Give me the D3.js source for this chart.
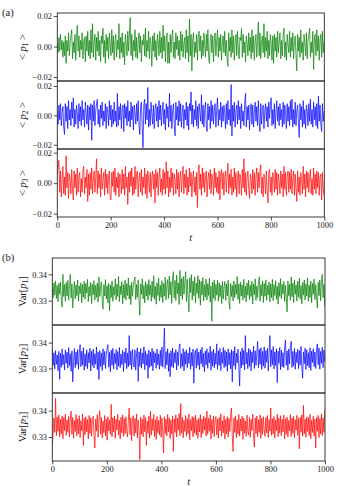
<!DOCTYPE html>
<html><head><meta charset="utf-8">
<script src="https://cdn.jsdelivr.net/npm/d3@7"></script>
<style>
body{margin:0;background:#fff}
svg{display:block}
</style>
</head><body>
<svg id="chart" width="340" height="486"></svg>
<script>
// ---- data (sampled every 3 time units, t = 0..999) ----
const tValues = d3.range(0, 1000, 3);
const xTicks = [0, 200, 400, 600, 800, 1000];
const meanTicks = [-0.02, 0.00, 0.02];
const varTicks = [0.33, 0.34];

const meanP1 = [
0.002,-0.004,0.006,-0.003,0.008,-0.002,0.004,-0.007,0.003,-0.006,
0.007,-0.011,0.004,-0.003,0.009,-0.006,0.002,0.007,0.011,-0.008,
0.003,-0.004,0.008,-0.009,0.006,0.014,-0.003,0.007,-0.007,0.004,
-0.002,0.009,-0.008,0.003,0.006,-0.010,0.007,-0.003,0.010,-0.006,
0.004,-0.008,0.011,-0.004,0.015,-0.007,0.003,0.008,-0.009,0.006,
-0.003,0.010,-0.006,0.004,-0.010,0.007,0.002,0.012,-0.007,0.004,
-0.011,0.008,-0.003,0.006,-0.008,0.009,0.001,-0.006,0.011,-0.004,
0.007,-0.009,0.003,0.008,-0.007,0.004,-0.002,0.015,-0.008,0.006,
-0.004,0.009,-0.007,0.003,-0.012,0.008,0.002,-0.006,0.010,-0.003,
0.007,0.019,-0.006,0.008,-0.009,0.004,-0.003,0.011,-0.007,0.006,
-0.008,0.003,0.009,-0.004,0.007,-0.010,0.004,0.001,0.008,-0.006,
0.012,-0.007,0.004,-0.003,0.010,-0.008,0.006,0.002,-0.013,0.007,
-0.003,0.009,-0.007,0.004,-0.009,0.008,0.003,-0.006,0.010,-0.004,
0.006,-0.008,0.014,-0.003,0.007,-0.010,0.004,0.009,-0.011,0.003,
-0.011,0.008,-0.004,0.006,0.011,-0.007,0.003,-0.008,0.009,-0.002,
0.007,-0.006,0.004,-0.009,0.010,-0.003,0.008,-0.007,0.002,0.006,
-0.008,0.011,-0.004,0.007,-0.010,0.018,-0.006,0.008,-0.016,0.004,
0.009,-0.007,0.003,-0.004,0.008,-0.009,0.006,0.010,-0.003,0.007,
-0.008,0.004,-0.006,0.009,0.001,-0.007,0.008,-0.003,0.011,-0.008,
-0.011,0.006,0.008,-0.004,0.007,-0.010,0.003,0.009,-0.006,0.004,
0.011,-0.007,0.006,-0.003,0.008,-0.009,0.002,0.007,-0.004,0.010,
-0.006,0.004,-0.008,-0.013,0.009,-0.003,0.006,-0.007,0.011,-0.004,
0.007,-0.009,0.003,0.008,-0.006,0.010,-0.002,-0.008,0.006,0.004,
0.012,-0.007,0.008,-0.004,0.003,-0.010,0.007,0.002,-0.006,0.009,
-0.003,0.006,-0.008,0.011,-0.004,0.007,-0.009,0.003,0.008,-0.007,
0.004,0.016,-0.006,0.009,-0.008,0.003,0.007,-0.004,0.015,-0.007,
0.006,-0.003,0.010,-0.008,0.004,-0.006,0.008,0.002,-0.009,0.007,
-0.011,0.008,-0.003,0.006,-0.007,0.010,-0.004,0.003,0.009,-0.008,
0.004,-0.006,0.007,0.012,-0.007,0.003,-0.009,0.008,0.001,-0.004,
0.010,-0.007,0.006,-0.003,0.009,-0.008,0.004,0.007,-0.006,-0.016,
0.008,-0.003,0.006,-0.007,0.011,-0.004,0.003,-0.009,0.008,0.002,
-0.006,0.009,-0.008,0.004,0.007,0.012,-0.007,0.003,-0.004,0.010,
-0.015,0.006,0.008,-0.006,0.011,-0.003,0.007,-0.009,0.004,0.008,
-0.007,0.010,-0.004,0.003];

const meanP2 = [
0.003,-0.006,0.007,-0.003,0.008,-0.007,0.002,0.006,-0.008,-0.013,
0.008,-0.004,0.006,-0.009,0.010,-0.003,0.004,-0.007,0.009,-0.002,
0.012,-0.008,0.004,-0.006,0.007,0.001,-0.009,0.008,-0.004,0.006,
-0.007,0.010,-0.003,0.004,-0.008,0.009,0.002,-0.006,0.007,-0.010,
0.006,-0.003,0.008,-0.017,0.007,-0.004,0.010,-0.007,0.003,0.008,
0.011,-0.006,0.004,-0.008,0.007,-0.002,0.009,-0.007,0.003,-0.004,
0.008,-0.009,0.006,0.002,-0.007,0.010,-0.003,0.007,-0.008,0.004,
-0.006,0.009,-0.004,0.003,-0.008,0.015,-0.007,0.006,-0.003,0.008,
-0.009,0.004,0.007,-0.011,0.008,-0.002,0.006,-0.007,0.010,-0.004,
0.003,-0.008,0.009,-0.003,0.006,-0.010,0.007,0.002,-0.006,0.008,
-0.004,0.010,-0.007,-0.013,0.006,0.009,-0.008,-0.022,0.007,0.011,
-0.006,0.008,-0.003,0.019,-0.008,0.004,-0.007,0.009,0.001,-0.006,
0.007,-0.009,0.004,0.008,-0.004,0.006,-0.008,0.010,-0.003,0.007,
-0.007,0.003,0.009,-0.006,0.004,-0.010,0.008,-0.002,0.006,-0.008,
0.015,-0.004,0.007,-0.009,0.003,0.008,-0.006,-0.014,0.009,-0.003,
0.006,-0.007,0.010,-0.004,0.008,-0.008,0.002,0.007,-0.009,0.004,
-0.003,0.009,-0.007,0.006,-0.010,0.008,0.003,0.016,-0.006,0.007,
-0.008,0.004,-0.003,0.010,-0.007,0.006,-0.009,0.008,0.002,-0.004,
0.014,-0.006,0.007,-0.008,0.004,0.009,-0.007,-0.011,0.008,-0.003,
0.006,-0.009,0.010,-0.004,0.007,-0.006,0.003,0.008,-0.008,0.004,
0.012,-0.007,0.004,-0.003,0.009,-0.008,0.006,-0.004,0.007,0.002,
-0.009,0.008,-0.006,0.010,-0.003,0.004,-0.007,0.021,-0.014,0.007,
-0.004,0.009,-0.008,0.003,0.007,-0.006,0.010,-0.003,0.006,-0.009,
0.008,-0.004,0.003,-0.007,0.009,0.015,-0.008,0.006,-0.003,0.007,
-0.010,0.004,0.008,-0.006,0.007,-0.008,0.002,0.009,-0.004,0.006,
-0.007,0.010,-0.003,-0.011,0.008,-0.006,0.004,0.007,-0.009,0.003,
0.008,-0.004,0.006,-0.008,0.009,-0.002,0.007,0.012,-0.007,0.004,
-0.006,0.008,-0.009,0.003,0.010,-0.004,0.006,-0.007,0.008,-0.003,
0.004,-0.008,0.009,-0.006,0.007,0.001,-0.009,0.008,-0.004,0.006,
-0.007,0.010,-0.003,0.011,-0.008,0.004,-0.006,0.009,-0.007,0.003,
0.007,-0.004,-0.015,0.008,-0.003,0.006,-0.008,0.010,-0.006,0.004,
-0.009,0.007,0.003,-0.007,0.008,-0.004,0.011,-0.006,0.004,-0.008,
0.009,-0.003,0.006,-0.007,0.008,-0.009,0.013,-0.004,0.007,-0.006,
-0.011,0.008,-0.004,0.003];

const meanP3 = [
0.006,0.010,0.015,-0.006,0.008,-0.009,0.003,0.011,-0.007,0.004,
-0.008,0.018,-0.003,0.007,-0.010,0.006,0.002,-0.007,0.009,-0.004,
-0.011,0.008,-0.003,0.006,-0.008,0.010,-0.006,0.004,0.007,-0.009,
0.003,-0.006,0.008,0.011,-0.007,0.004,-0.003,0.009,-0.012,0.006,
-0.008,0.007,-0.004,0.010,-0.007,0.003,0.008,-0.006,0.004,0.016,
-0.007,0.008,-0.003,0.006,-0.009,0.010,-0.004,0.002,0.007,-0.008,
0.009,-0.003,0.006,-0.007,0.004,0.008,-0.010,-0.011,0.007,-0.002,
0.008,-0.006,0.010,-0.008,0.004,-0.003,0.007,-0.009,0.006,0.003,
-0.007,0.009,-0.004,0.006,-0.008,0.011,-0.003,0.004,-0.014,0.007,
-0.006,0.008,-0.002,0.010,-0.008,0.004,-0.007,0.011,-0.004,0.006,
0.008,-0.009,0.003,0.007,-0.006,0.009,-0.008,0.004,-0.003,0.010,
-0.007,0.006,-0.010,0.008,0.002,-0.006,0.007,-0.009,0.004,0.008,
-0.004,0.006,-0.013,0.009,-0.003,0.007,-0.008,0.004,0.010,-0.006,
0.003,-0.008,0.009,-0.004,0.007,-0.007,0.014,-0.003,0.008,-0.009,
0.004,-0.006,0.010,-0.003,0.007,-0.008,0.006,0.002,-0.007,0.009,
-0.004,0.007,-0.009,0.003,0.008,-0.006,0.004,0.011,-0.007,0.006,
-0.003,0.009,-0.008,0.004,-0.006,0.010,-0.002,0.007,-0.009,0.003,
0.008,-0.006,0.004,-0.008,0.007,-0.016,0.009,0.012,-0.004,0.006,
-0.008,0.010,-0.003,0.007,-0.006,0.004,0.008,-0.009,0.003,0.007,
-0.004,0.009,-0.007,0.006,0.002,-0.008,0.010,-0.003,0.007,-0.006,
0.004,-0.007,0.008,-0.011,0.006,0.009,-0.004,0.007,-0.008,0.003,
0.008,-0.006,0.004,0.013,-0.007,0.006,-0.003,0.009,-0.008,0.004,
-0.006,0.010,-0.004,0.007,-0.009,0.003,0.008,-0.007,0.006,0.002,
-0.008,0.009,-0.003,0.016,-0.006,0.007,-0.008,0.004,0.008,-0.004,
-0.010,0.006,0.003,-0.007,0.009,-0.004,0.007,-0.008,0.004,0.010,
-0.006,0.007,-0.003,0.008,0.012,-0.007,0.004,-0.009,0.006,0.003,
-0.007,0.008,-0.004,-0.013,0.007,0.009,-0.006,0.004,-0.008,0.007,
0.003,-0.006,0.009,-0.004,0.007,-0.008,0.006,0.001,-0.007,0.008,
-0.003,0.006,-0.009,0.011,-0.004,0.007,-0.008,0.004,0.008,-0.006,
0.007,-0.004,0.009,-0.007,0.003,0.008,-0.008,0.006,-0.003,-0.012,
0.008,-0.006,0.004,-0.008,0.007,0.003,-0.007,0.011,-0.004,0.006,
-0.009,0.008,-0.003,0.007,-0.006,0.004,0.009,-0.007,0.003,-0.008,
0.010,-0.004,0.006,-0.007,0.008,-0.003,0.007,-0.008,0.004,0.006,
-0.011,0.007,-0.004,-0.008];

const varP1 = [
0.3352,0.3312,0.3368,0.3321,0.3375,0.3309,0.3358,0.3296,0.3366,0.3325,
0.3371,0.3305,0.3275,0.3400,0.3316,0.3362,0.3298,0.3369,0.3318,0.3377,
0.3303,0.3357,0.3400,0.3311,0.3364,0.3272,0.3333,0.3373,0.3307,0.3360,
0.3319,0.3379,0.3298,0.3356,0.3326,0.3368,0.3292,0.3361,0.3314,0.3374,
0.3306,0.3365,0.3329,0.3381,0.3297,0.3354,0.3317,0.3370,0.3289,0.3362,
0.3322,0.3376,0.3303,0.3358,0.3313,0.3367,0.3295,0.3390,0.3316,0.3352,
0.3372,0.3300,0.3268,0.3361,0.3318,0.3380,0.3307,0.3357,0.3291,0.3366,
0.3262,0.3359,0.3312,0.3375,0.3298,0.3353,0.3321,0.3383,0.3304,0.3363,
0.3316,0.3392,0.3296,0.3356,0.3323,0.3372,0.3288,0.3361,0.3310,0.3378,
0.3302,0.3365,0.3320,0.3386,0.3306,0.3359,0.3285,0.3370,0.3317,0.3355,
0.3375,0.3390,0.3304,0.3362,0.3313,0.3379,0.3297,0.3245,0.3364,0.3324,
0.3383,0.3307,0.3358,0.3292,0.3372,0.3318,0.3363,0.3302,0.3380,0.3321,
0.3360,0.3298,0.3374,0.3313,0.3395,0.3306,0.3355,0.3287,0.3368,0.3320,
0.3385,0.3299,0.3359,0.3312,0.3376,0.3293,0.3365,0.3317,0.3389,0.3303,
0.3363,0.3380,0.3309,0.3393,0.3322,0.3372,0.3290,0.3386,0.3410,0.3311,
0.3377,0.3301,0.3397,0.3327,0.3368,0.3286,0.3415,0.3318,0.3384,0.3305,
0.3392,0.3325,0.3371,0.3410,0.3297,0.3381,0.3314,0.3258,0.3387,0.3331,
0.3399,0.3302,0.3375,0.3319,0.3391,0.3292,0.3367,0.3328,0.3395,0.3309,
0.3380,0.3283,0.3373,0.3322,0.3388,0.3299,0.3361,0.3314,0.3382,0.3303,
0.3365,0.3320,0.3385,0.3295,0.3356,0.3222,0.3371,0.3310,0.3379,0.3301,
0.3362,0.3321,0.3377,0.3298,0.3368,0.3315,0.3359,0.3289,0.3373,0.3307,
0.3352,0.3373,0.3301,0.3364,0.3318,0.3378,0.3294,0.3268,0.3366,0.3316,
0.3358,0.3299,0.3375,0.3312,0.3362,0.3324,0.3392,0.3305,0.3364,0.3290,
0.3371,0.3318,0.3361,0.3302,0.3381,0.3311,0.3355,0.3296,0.3368,0.3321,
0.3378,0.3305,0.3359,0.3316,0.3374,0.3288,0.3363,0.3323,0.3383,0.3301,
0.3356,0.3313,0.3369,0.3390,0.3298,0.3361,0.3319,0.3375,0.3293,0.3366,
0.3317,0.3379,0.3302,0.3358,0.3322,0.3371,0.3295,0.3364,0.3312,0.3381,
0.3300,0.3361,0.3320,0.3376,0.3305,0.3355,0.3287,0.3368,0.3316,0.3384,
0.3308,0.3363,0.3326,0.3373,0.3297,0.3359,0.3313,0.3258,0.3375,0.3319,
0.3362,0.3302,0.3390,0.3315,0.3367,0.3293,0.3379,0.3324,0.3360,0.3299,
0.3374,0.3314,0.3385,0.3306,0.3357,0.3288,0.3369,0.3321,0.3378,0.3303,
0.3364,0.3318,0.3387,0.3298,0.3359,0.3312,0.3375,0.3293,0.3366,0.3325,
0.3382,0.3304,0.3361,0.3315,0.3272,0.3370,0.3319,0.3379,0.3300,0.3366,
0.3400,0.3311,0.3362,0.3280];

const varP2 = [
0.3375,0.3312,0.3361,0.3298,0.3369,0.3316,0.3352,0.3291,0.3366,0.3258,
0.3358,0.3305,0.3376,0.3314,0.3353,0.3294,0.3372,0.3320,0.3363,0.3301,
0.3381,0.3311,0.3357,0.3289,0.3368,0.3248,0.3327,0.3377,0.3303,0.3364,
0.3315,0.3373,0.3297,0.3359,0.3392,0.3306,0.3367,0.3313,0.3380,0.3293,
0.3356,0.3308,0.3372,0.3299,0.3361,0.3321,0.3378,0.3290,0.3366,0.3311,
0.3374,0.3302,0.3357,0.3316,0.3383,0.3296,0.3363,0.3258,0.3369,0.3307,
0.3360,0.3292,0.3376,0.3314,0.3366,0.3300,0.3353,0.3377,0.3392,0.3305,
0.3362,0.3287,0.3371,0.3312,0.3378,0.3298,0.3358,0.3319,0.3373,0.3294,
0.3365,0.3309,0.3381,0.3303,0.3356,0.3315,0.3370,0.3288,0.3363,0.3320,
0.3379,0.3299,0.3360,0.3307,0.3427,0.3313,0.3367,0.3296,0.3374,0.3324,
0.3305,0.3372,0.3293,0.3358,0.3380,0.3250,0.3364,0.3308,0.3377,0.3301,
0.3360,0.3318,0.3384,0.3295,0.3367,0.3312,0.3356,0.3262,0.3371,0.3304,
0.3363,0.3309,0.3378,0.3291,0.3366,0.3322,0.3359,0.3300,0.3375,0.3314,
0.3356,0.3297,0.3370,0.3310,0.3382,0.3305,0.3362,0.3456,0.3299,0.3365,
0.3314,0.3376,0.3289,0.3359,0.3268,0.3368,0.3307,0.3379,0.3302,0.3361,
0.3322,0.3373,0.3294,0.3364,0.3311,0.3384,0.3395,0.3300,0.3357,0.3308,
0.3377,0.3291,0.3365,0.3316,0.3372,0.3303,0.3360,0.3320,0.3381,0.3297,
0.3362,0.3310,0.3375,0.3243,0.3355,0.3370,0.3301,0.3378,0.3312,0.3363,
0.3295,0.3372,0.3318,0.3382,0.3305,0.3358,0.3287,0.3367,0.3314,0.3376,
0.3300,0.3361,0.3321,0.3386,0.3293,0.3366,0.3309,0.3374,0.3302,0.3359,
0.3316,0.3395,0.3297,0.3368,0.3312,0.3378,0.3292,0.3362,0.3319,0.3381,
0.3303,0.3370,0.3308,0.3364,0.3289,0.3376,0.3314,0.3361,0.3298,0.3373,
0.3248,0.3367,0.3310,0.3384,0.3296,0.3359,0.3322,0.3375,0.3305,0.3232,
0.3365,0.3302,0.3379,0.3313,0.3370,0.3294,0.3427,0.3317,0.3362,0.3299,
0.3377,0.3308,0.3372,0.3291,0.3364,0.3323,0.3386,0.3300,0.3368,0.3312,
0.3360,0.3405,0.3303,0.3374,0.3316,0.3380,0.3296,0.3366,0.3309,0.3383,
0.3301,0.3369,0.3324,0.3378,0.3290,0.3362,0.3427,0.3306,0.3372,0.3314,
0.3385,0.3298,0.3364,0.3311,0.3376,0.3245,0.3367,0.3320,0.3381,0.3295,
0.3371,0.3307,0.3361,0.3303,0.3379,0.3410,0.3312,0.3368,0.3293,0.3375,
0.3317,0.3382,0.3405,0.3304,0.3366,0.3310,0.3377,0.3297,0.3362,0.3322,
0.3374,0.3299,0.3369,0.3313,0.3385,0.3305,0.3262,0.3364,0.3318,0.3378,
0.3296,0.3372,0.3311,0.3361,0.3303,0.3380,0.3292,0.3367,0.3323,0.3376,
0.3307,0.3364,0.3300,0.3373,0.3395,0.3314,0.3379,0.3297,0.3366,0.3320,
0.3382,0.3303,0.3371,0.3326];

const varP3 = [
0.3268,0.3310,0.3372,0.3318,0.3447,0.3305,0.3376,0.3322,0.3384,0.3301,
0.3368,0.3312,0.3380,0.3294,0.3374,0.3325,0.3387,0.3306,0.3365,0.3318,
0.3378,0.3300,0.3370,0.3398,0.3311,0.3374,0.3296,0.3363,0.3321,0.3385,
0.3305,0.3369,0.3313,0.3381,0.3298,0.3362,0.3324,0.3388,0.3268,0.3371,
0.3309,0.3377,0.3319,0.3366,0.3293,0.3382,0.3314,0.3373,0.3303,0.3361,
0.3379,0.3306,0.3258,0.3368,0.3322,0.3385,0.3299,0.3364,0.3400,0.3311,
0.3374,0.3297,0.3361,0.3316,0.3382,0.3304,0.3369,0.3288,0.3377,0.3323,
0.3365,0.3310,0.3424,0.3301,0.3373,0.3319,0.3380,0.3295,0.3367,0.3327,
0.3386,0.3307,0.3363,0.3293,0.3375,0.3316,0.3384,0.3303,0.3370,0.3312,
0.3377,0.3321,0.3300,0.3368,0.3410,0.3309,0.3373,0.3286,0.3362,0.3381,
0.3304,0.3371,0.3315,0.3387,0.3297,0.3364,0.3322,0.3214,0.3376,0.3311,
0.3368,0.3301,0.3383,0.3320,0.3374,0.3268,0.3360,0.3314,0.3379,0.3296,
0.3398,0.3307,0.3369,0.3325,0.3385,0.3302,0.3366,0.3291,0.3378,0.3316,
0.3363,0.3308,0.3382,0.3299,0.3372,0.3323,0.3240,0.3377,0.3313,0.3368,
0.3304,0.3386,0.3320,0.3373,0.3294,0.3364,0.3311,0.3380,0.3245,0.3369,
0.3317,0.3384,0.3300,0.3371,0.3326,0.3389,0.3305,0.3427,0.3314,0.3374,
0.3297,0.3363,0.3321,0.3382,0.3303,0.3370,0.3312,0.3387,0.3290,0.3366,
0.3324,0.3378,0.3301,0.3374,0.3315,0.3383,0.3307,0.3365,0.3295,0.3372,
0.3319,0.3385,0.3298,0.3368,0.3313,0.3379,0.3326,0.3373,0.3304,0.3398,
0.3310,0.3371,0.3322,0.3384,0.3293,0.3366,0.3314,0.3380,0.3301,0.3363,
0.3378,0.3308,0.3369,0.3296,0.3374,0.3323,0.3388,0.3303,0.3362,0.3316,
0.3381,0.3292,0.3367,0.3312,0.3377,0.3300,0.3371,0.3321,0.3384,0.3410,
0.3305,0.3245,0.3373,0.3317,0.3380,0.3297,0.3365,0.3311,0.3386,0.3303,
0.3368,0.3323,0.3379,0.3291,0.3372,0.3314,0.3361,0.3302,0.3383,0.3320,
0.3308,0.3375,0.3299,0.3367,0.3325,0.3387,0.3304,0.3262,0.3373,0.3313,
0.3380,0.3301,0.3365,0.3318,0.3384,0.3295,0.3371,0.3310,0.3377,0.3327,
0.3303,0.3374,0.3315,0.3382,0.3298,0.3366,0.3322,0.3410,0.3306,0.3370,
0.3312,0.3378,0.3296,0.3364,0.3324,0.3386,0.3301,0.3372,0.3316,0.3381,
0.3305,0.3367,0.3320,0.3383,0.3293,0.3369,0.3311,0.3376,0.3300,0.3363,
0.3323,0.3385,0.3302,0.3372,0.3314,0.3378,0.3297,0.3366,0.3326,0.3382,
0.3307,0.3370,0.3255,0.3375,0.3318,0.3384,0.3303,0.3420,0.3312,0.3368,
0.3299,0.3377,0.3321,0.3373,0.3306,0.3386,0.3294,0.3364,0.3317,0.3379,
0.3304,0.3367,0.3258,0.3374,0.3322,0.3382,0.3298,0.3370,0.3311,0.3388,
0.3305,0.3373,0.3318,0.3405];

const colors = ["#008000", "#0000ff", "#ff0000"];

// ---- drawing ----
const FONT = "'Liberation Serif', 'DejaVu Serif', serif";
const svg = d3.select("#chart").attr("font-family", FONT);
const FS_TICK = 8.4, FS_LABEL = 10.5, INK = "#1a1a1a";
const fmt = d3.format(".2f");

function styleAxis(a) {
  a.attr("font-family", FONT).attr("font-size", FS_TICK);
  a.select(".domain").remove();
  a.selectAll("line").attr("stroke", INK).attr("stroke-width", 0.8);
  a.selectAll("text").attr("font-family", FONT).attr("font-size", FS_TICK).attr("fill", INK);
}

function drawGroup(cfg) {
  const x = d3.scaleLinear().domain([0, 1000]).range([cfg.x0, cfg.x1]);
  cfg.panels.forEach((p, k) => {
    const y = d3.scaleLinear().domain(p.domain).range([p.y1, p.y0]);
    const g = svg.append("g");
    const cid = "clip-" + cfg.id + k;
    svg.append("clipPath").attr("id", cid).append("rect")
      .attr("x", cfg.x0).attr("y", p.y0).attr("width", cfg.x1 - cfg.x0).attr("height", p.y1 - p.y0);
    const line = d3.line().x((d, i) => x(tValues[i])).y(d => y(d));
    g.append("path").datum(p.values)
      .attr("clip-path", `url(#${cid})`)
      .attr("d", line).attr("fill", "none")
      .attr("stroke", p.color).attr("stroke-width", 0.7).attr("stroke-linejoin", "round");
    const ya = g.append("g").attr("transform", `translate(${cfg.x0},0)`)
      .call(d3.axisLeft(y).tickValues(cfg.yTicks).tickSize(3.5).tickPadding(1.8).tickFormat(fmt));
    styleAxis(ya);
    g.append("rect").attr("x", cfg.x0).attr("y", p.y0)
      .attr("width", cfg.x1 - cfg.x0).attr("height", p.y1 - p.y0)
      .attr("fill", "none").attr("stroke", "#262626").attr("stroke-width", 0.9);
    const lt = g.append("text")
      .attr("transform", `translate(${cfg.labelX},${(p.y0 + p.y1) / 2}) rotate(-90)`)
      .attr("text-anchor", "middle").attr("font-size", FS_LABEL).attr("font-family", FONT).attr("fill", INK);
    cfg.label(lt, k + 1);
  });
  const last = cfg.panels[cfg.panels.length - 1];
  const xa = svg.append("g").attr("transform", `translate(0,${last.y1})`)
    .call(d3.axisBottom(x).tickValues(xTicks).tickSize(3.5).tickPadding(2).tickFormat(d3.format("d")));
  styleAxis(xa);
  svg.append("text").attr("x", (cfg.x0 + cfg.x1) / 2).attr("y", last.y1 + 23.5)
    .attr("text-anchor", "middle").attr("font-size", FS_LABEL).attr("font-style", "italic")
    .attr("font-family", FONT).attr("fill", INK).text("t");
  svg.append("text").attr("x", 2).attr("y", cfg.tagY).attr("font-size", FS_LABEL)
    .attr("font-family", FONT).attr("fill", INK).text(cfg.tag);
}

function meanLabel(t, n) {
  t.append("tspan").text("< ");
  t.append("tspan").attr("font-style", "italic").text("p");
  t.append("tspan").attr("font-size", FS_LABEL * 0.7).attr("dy", 2).text(n);
  t.append("tspan").attr("dy", -2).text(" >");
}
function varLabel(t, n) {
  t.append("tspan").text("Var[");
  t.append("tspan").attr("font-style", "italic").text("p");
  t.append("tspan").attr("font-size", FS_LABEL * 0.7).attr("dy", 2).text(n);
  t.append("tspan").attr("dy", -2).text("]");
}

drawGroup({
  id: "a", x0: 57.3, x1: 324.3, yTicks: meanTicks,
  labelX: 26, tag: "(a)", tagY: 16, label: meanLabel,
  panels: [
    {y0: 13, y1: 81, domain: [-0.0226, 0.0220], values: meanP1, color: colors[0]},
    {y0: 81, y1: 149, domain: [-0.0229, 0.0234], values: meanP2, color: colors[1]},
    {y0: 149, y1: 217, domain: [-0.0222, 0.0224], values: meanP3, color: colors[2]}
  ]
});
drawGroup({
  id: "b", x0: 52.3, x1: 325, yTicks: varTicks,
  labelX: 25.5, tag: "(b)", tagY: 261, label: varLabel,
  panels: [
    {y0: 258, y1: 325, domain: [0.3208, 0.3462], values: varP1, color: colors[0]},
    {y0: 325, y1: 393, domain: [0.3205, 0.3468], values: varP2, color: colors[1]},
    {y0: 393, y1: 461, domain: [0.3209, 0.3467], values: varP3, color: colors[2]}
  ]
});
</script>
</body></html>
